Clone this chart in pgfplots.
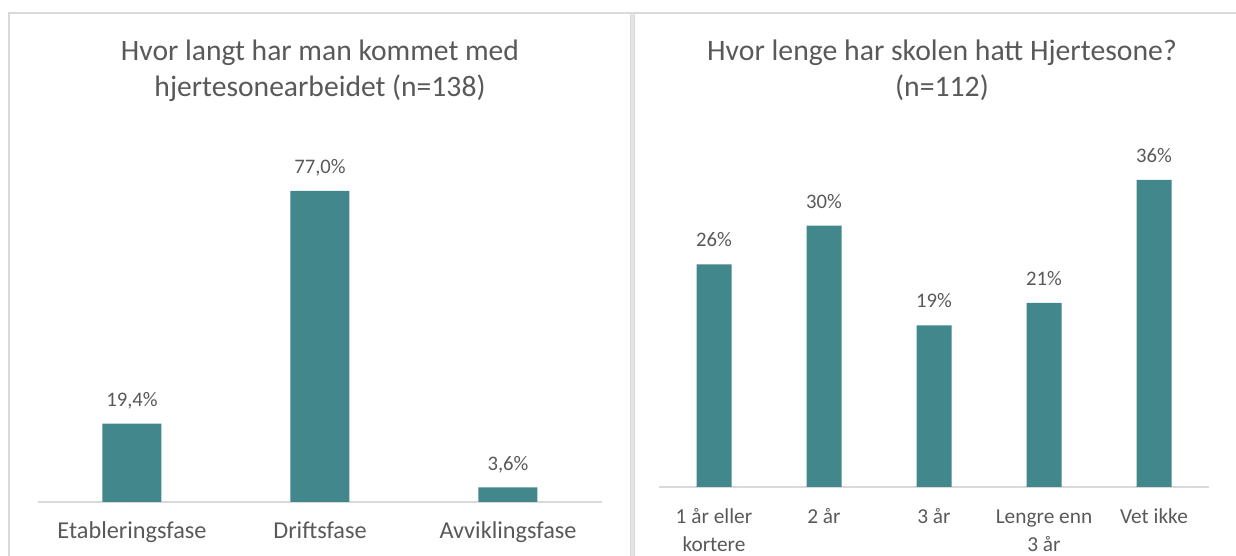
\documentclass[border=0pt]{standalone}
\usepackage{fontspec}
\setmainfont{Carlito}
\usepackage{pgfplots}
\pgfplotsset{compat=1.18}
\definecolor{bar}{RGB}{65,135,139}
\definecolor{txt}{RGB}{89,89,89}
\definecolor{frame}{RGB}{217,217,217}
\begin{document}
\begin{tikzpicture}
\useasboundingbox (0,0) rectangle (927pt,417pt);
% frame
\draw[frame, line width=0.9pt] (6pt,407.25pt) -- (927pt,407.25pt);
\draw[frame, line width=0.9pt] (6.75pt,0) -- (6.75pt,407.25pt);
\fill[frame!70] (472.5pt,0) rectangle (475.5pt,407.25pt);
\draw[frame, line width=0.5pt] (472.6pt,0) -- (472.6pt,407.25pt);
\draw[frame, line width=0.5pt] (475.4pt,0) -- (475.4pt,407.25pt);
% titles
\node[anchor=base, text=txt, inner sep=0, font=\fontsize{22.2}{27}\selectfont] at (240pt,371.25pt) {Hvor langt har man kommet med};
\node[anchor=base, text=txt, inner sep=0, font=\fontsize{22.2}{27}\selectfont] at (240pt,344.25pt) {hjertesonearbeidet (n=138)};
\node[anchor=base, text=txt, inner sep=0, font=\fontsize{22.3}{27}\selectfont] at (706.5pt,371.25pt) {Hvor lenge har skolen hatt Hjertesone?};
\node[anchor=base, text=txt, inner sep=0, font=\fontsize{22.3}{27}\selectfont] at (706.5pt,344.25pt) {(n=112)};
\pgfplotsset{
  mystyle/.style={
    scale only axis, anchor=south west, clip=false,
    axis x line=bottom, axis y line=none,
    axis line style={-, draw=frame, line width=0.8pt},
    major tick length=0pt, ymin=0, xmin=-0.5,
    xtick=data, ytick=\empty,
    xticklabel style={text=txt, font=\fontsize{16}{21}\selectfont, align=center, anchor=north, inner sep=0pt, yshift=-12.5pt},
    every node near coord/.append style={text=txt, font=\fontsize{15.5}{19}\selectfont, anchor=base, inner sep=0pt, yshift=13pt},
    /pgf/number format/assume math mode=true,
  }
}
\begin{axis}[mystyle,
  at={(28.5pt,40.5pt)}, width=423pt, height=272.7pt,
  ymax=90, xmax=2.5,
  xticklabel style={font=\fontsize{18.2}{21}\selectfont},
  xticklabels={\strut Etableringsfase, \strut Driftsfase, \strut Avviklingsfase},
  nodes near coords={\pgfmathprintnumber[fixed, fixed zerofill, precision=1, use comma]{\pgfplotspointmeta}\%},
]
\addplot[ybar, bar width=44.25pt, fill=bar, draw=none] coordinates {(0,19.4) (1,77.0) (2,3.6)};
\end{axis}
\begin{axis}[mystyle,
  at={(494.25pt,51.75pt)}, width=412.5pt, height=258pt,
  ymax=40, xmax=4.5,
  xticklabels={{\strut 1 år eller\\kortere}, {\strut 2 år}, {\strut 3 år}, {\strut Lengre enn\\3 år}, {\strut Vet ikke}},
  nodes near coords={\pgfmathprintnumber[fixed, precision=0]{\pgfplotspointmeta}\%},
]
\addplot[ybar, bar width=26.25pt, fill=bar, draw=none] coordinates {(0,25.9) (1,30.4) (2,18.8) (3,21.4) (4,35.7)};
\end{axis}
\end{tikzpicture}
\end{document}
